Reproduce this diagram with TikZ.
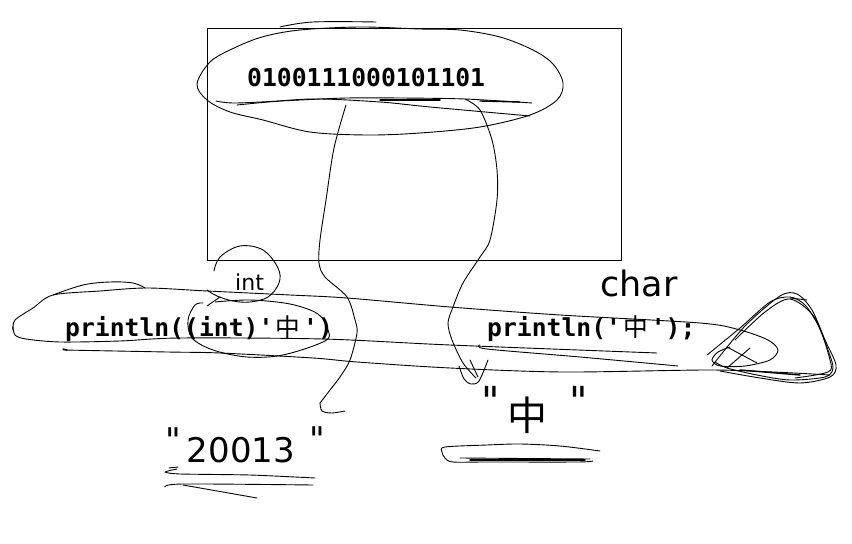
\documentclass[tikz,border=0pt]{standalone}
\usepackage{fontspec}
\setmonofont{DejaVu Sans Mono}
\newfontfamily\cjk{Noto Sans CJK SC}
\newfontfamily\hand{DejaVu Sans}
\newcommand{\zh}{\makebox[1.204em][c]{\mdseries\cjk 中}}
\begin{document}
\begin{tikzpicture}[x=1bp,y=-1bp,
  pen/.style={line width=0.9bp, line cap=round, line join=round, black},
  thickpen/.style={line width=1.4bp, line cap=round, line join=round, black},
  code/.style={font=\fontsize{24.7bp}{30bp}\selectfont\ttfamily\bfseries, inner sep=0, anchor=base west},
  handtext/.style={font=\hand, inner sep=0, anchor=base west}]
\useasboundingbox (0,0) rectangle (852,544);

% memory box
\draw[pen] (207,28) rectangle (621,260);
\draw[pen] plot[smooth, tension=0.6] coordinates {(280,27) (313,22) (376,22)};

% texts
\node[code] (bin) at (247,87) {0100111000101101};
\node[code] (p1) at (65,337) {println((int)'\zh')};
\node[code] (p2) at (487,337) {println('\zh');};
\node[handtext, font=\hand\fontsize{22bp}{26bp}\selectfont] (int) at (235,291) {int};
\node[handtext, font=\hand\fontsize{35bp}{40bp}\selectfont] (char) at (600,297) {char};
\node[handtext, font=\hand\fontsize{34bp}{40bp}\selectfont] (num) at (165,462)
  {\raisebox{10bp}{"}\hspace{6bp}20013\hspace{14bp}\raisebox{11bp}{"}};
\node[handtext, font=\hand\fontsize{40bp}{44bp}\selectfont] (zhq) at (481,430)
  {\raisebox{15bp}{"}\hspace{8bp}{\cjk 中}\hspace{22bp}\raisebox{15bp}{"}};

% ellipse around binary
\draw[pen] plot[smooth cycle, tension=0.55] coordinates {(197,84) (210,62) (232,49) (262,37) (300,30) (360,27) (420,29) (460,30) (500,37) (533,50) (553,64) (563,83) (557,100) (530,115) (480,127) (420,133) (367,135) (310,132) (263,120) (230,112) (207,100)};
% underlines of binary
\draw[pen] plot[smooth, tension=0.5] coordinates {(216,101) (236,103) (300,100) (347,98) (400,98) (465,99) (532,103)};
\draw[thickpen] (380,100) -- (440,100);
\draw[thickpen] (480,101) -- (520,102);
\draw[pen] plot[smooth, tension=0.5] coordinates {(237,105) (310,99) (380,102) (430,107) (530,116)};

% connector 1 : binary -> "20013"
\coordinate (c1s) at (346,105);
\coordinate (c1e) at (345,411);
\draw[pen] plot[smooth, tension=0.5] coordinates {(c1s) (334,148) (326,200) (320,240) (319,263) (325,277) (347,297) (355,320) (357,333) (350,360) (340,377) (330,390) (320,403)};
\draw[pen] plot[smooth, tension=0.5] coordinates {(320,403) (322,411) (332,413) (c1e)};

% connector 2 : binary -> "中"
\coordinate (c2s) at (465,99);
\draw[pen] plot[smooth, tension=0.5] coordinates {(c2s) (480,110) (492,140) (497,170) (497,200) (490,240) (480,257) (463,283) (453,307) (448,323) (452,340) (463,363) (476,378)};
\draw[pen] plot[smooth, tension=0.5] coordinates {(459,366) (464,379) (471,384) (479,381) (488,360)};
\draw[pen] (470,360) -- (478,377);

% big lens
\draw[pen] plot[smooth, tension=0.5] coordinates {(13,330) (15,320) (33,308) (53,295) (100,291) (147,288) (207,291) (290,295) (347,298) (450,307) (560,315) (700,323) (740,330) (768,340) (778,350) (770,360) (745,366) (720,366) (712,360) (718,352) (730,347)};
\draw[pen] plot[smooth, tension=0.6] coordinates {(53,295) (83,285) (110,282) (133,283) (145,288)};
\draw[pen] plot[smooth, tension=0.5] coordinates {(13,326) (15,335) (26,339) (60,342) (120,341) (180,338) (323,339) (450,345) (657,353)};
\draw[pen] plot[smooth, tension=0.5] coordinates {(63,350) (167,352) (220,353) (313,358) (357,362) (450,368) (563,372) (707,370) (773,372) (830,375)};
\draw[thickpen] (63,349) -- (67,350);
\draw[pen] plot[smooth, tension=0.5] coordinates {(480,345) (487,349) (580,357) (678,366)};

% small ellipse around (int)'中'
\draw[pen] (207,306) -- (220,297);
\draw[pen] plot[smooth, tension=0.55] coordinates {(203,303) (195,305) (188,320) (192,338) (213,350) (247,357) (283,355) (325,341) (328,330) (318,314) (290,304) (250,300) (215,302)};

% circle around "int"
\draw[pen] plot[smooth, tension=0.6] coordinates {(214,271) (220,257) (240,246) (263,250) (278,268) (279,283) (268,297) (250,302) (233,301) (217,296) (207,290)};

% triangle scribble
\draw[pen] plot[smooth, tension=0.5] coordinates {(707,355) (740,328) (770,302) (790,297) (805,305) (818,325) (828,350) (833,368) (825,377) (790,380) (757,375) (727,368) (715,362)};
\draw[pen] plot[smooth, tension=0.5] coordinates {(712,366) (745,326) (780,296) (797,294) (812,310) (825,340) (836,365) (830,377) (800,383) (760,378) (720,371)};
\draw[pen] plot[smooth, tension=0.5] coordinates {(735,340) (765,312) (790,299) (815,318) (830,360) (828,372) (795,378)};
\draw[pen] (790,298) -- (807,300);
\draw[pen] (727,347) -- (757,363);
\draw[pen] (750,348) -- (727,368);
\draw[thickpen] (740,370) -- (800,375);

% underlines under "20013"
\draw[pen] plot[smooth, tension=0.4] coordinates {(177,469) (165,472) (180,474) (250,475) (315,478)};
\draw[pen] (169,468) -- (178,467);
\draw[pen] plot[smooth, tension=0.5] coordinates {(165,487) (183,484) (313,485)};
\draw[pen] (183,485) -- (257,498);

% base lens under "中"
\draw[pen] plot[smooth, tension=0.5] coordinates {(600,451) (560,446) (520,444) (487,445) (445,447) (442,452) (445,458) (453,462) (487,462) (577,462) (593,461)};
\draw[pen] (460,458) -- (590,459);
\draw[thickpen] (470,460) -- (585,460);
\end{tikzpicture}
\end{document}
